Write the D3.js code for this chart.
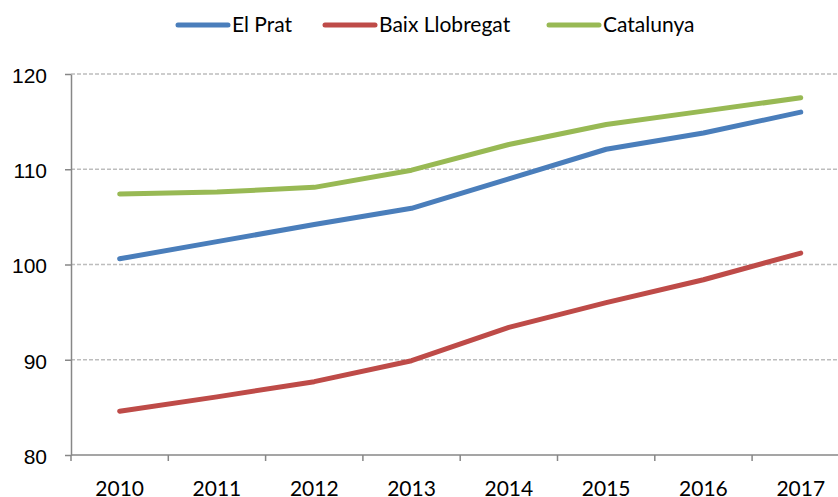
<!DOCTYPE html>
<html lang="ca">
<head>
<meta charset="utf-8">
<style>
  body { margin: 0; background: #fff; }
  svg { display: block; font-family: Lato, "Open Sans", sans-serif; }
  .grid line { stroke: #bdbdbd; stroke-dasharray: 4 2; stroke-width: 1.3; }
  .axis path, .axis line { stroke: #878787; stroke-width: 1.5; }
  .axis text { fill: #000; font-size: 21px; }
  .series { fill: none; stroke-width: 5; stroke-linecap: round; stroke-linejoin: round; }
  .legend text { font-size: 21px; fill: #000; }
</style>
</head>
<body>
<script src="https://d3js.org/d3.v7.min.js"></script>
<script>
// data
var years = ["2010", "2011", "2012", "2013", "2014", "2015", "2016", "2017"];
var elPrat = [100.6, 102.4, 104.2, 105.9, 109.0, 112.1, 113.8, 116.0];
var baixLlobregat = [84.6, 86.1, 87.7, 89.9, 93.4, 96.0, 98.4, 101.2];
var catalunya = [107.4, 107.6, 108.1, 109.9, 112.6, 114.7, 116.1, 117.5];
var seriesNames = ["El Prat", "Baix Llobregat", "Catalunya"];
var seriesColors = ["#4a7ebb", "#be4b48", "#98b954"];
var yTicks = [80, 90, 100, 110, 120];

var series = [elPrat, baixLlobregat, catalunya].map(function(v, i) {
  return { name: seriesNames[i], color: seriesColors[i], values: v };
});

var W = 838, H = 497;
var plotLeft = 71, plotBottom = 455, plotTop = 74;

var svg = d3.select("body").append("svg")
  .attr("width", W).attr("height", H);

var x = d3.scaleBand().domain(years).range([plotLeft, plotLeft + 8 * 97.3]);
var y = d3.scaleLinear().domain([80, 120]).range([plotBottom, plotTop]);

// gridlines
svg.append("g").attr("class", "grid")
  .selectAll("line").data(yTicks.slice(1)).enter().append("line")
  .attr("x1", plotLeft).attr("x2", W)
  .attr("y1", function(d) { return y(d); })
  .attr("y2", function(d) { return y(d); });

// y axis
var yAxis = svg.append("g").attr("class", "axis")
  .attr("transform", "translate(" + plotLeft + ",0)")
  .call(d3.axisLeft(y).tickValues(yTicks).tickSize(6).tickSizeOuter(0).tickPadding(18));
yAxis.selectAll("text").attr("dy", "0.4em");

// x axis, ticks on the band edges
var xAxis = svg.append("g").attr("class", "axis")
  .attr("transform", "translate(0," + plotBottom + ")");
xAxis.append("line")
  .attr("x1", plotLeft).attr("x2", W).attr("y1", 0).attr("y2", 0);
xAxis.selectAll("line.tick").data(years).enter().append("line")
  .attr("class", "tick")
  .attr("x1", function(d) { return x(d); })
  .attr("x2", function(d) { return x(d); })
  .attr("y1", 0).attr("y2", 6);
xAxis.selectAll("text").data(years).enter().append("text")
  .attr("x", function(d) { return x(d) + x.bandwidth() / 2; })
  .attr("y", 34)
  .attr("dy", "0.35em")
  .attr("text-anchor", "middle")
  .text(function(d) { return d; });

// lines
var line = d3.line()
  .x(function(d, i) { return x(years[i]) + x.bandwidth() / 2; })
  .y(function(d) { return y(d); });

svg.selectAll("path.series").data(series).enter().append("path")
  .attr("class", "series")
  .attr("stroke", function(d) { return d.color; })
  .attr("d", function(d) { return line(d.values); });

// legend
var legendX = [178, 325, 549];
var legend = svg.append("g").attr("class", "legend")
  .selectAll("g").data(series).enter().append("g")
  .attr("transform", function(d, i) { return "translate(" + legendX[i] + ",25)"; });
legend.append("line")
  .attr("x1", 0).attr("x2", 50).attr("y1", 0).attr("y2", 0)
  .attr("stroke", function(d) { return d.color; })
  .attr("stroke-width", 5).attr("stroke-linecap", "round");
legend.append("text")
  .attr("x", 54).attr("dy", "0.35em")
  .text(function(d) { return d.name; });
</script>
</body>
</html>
